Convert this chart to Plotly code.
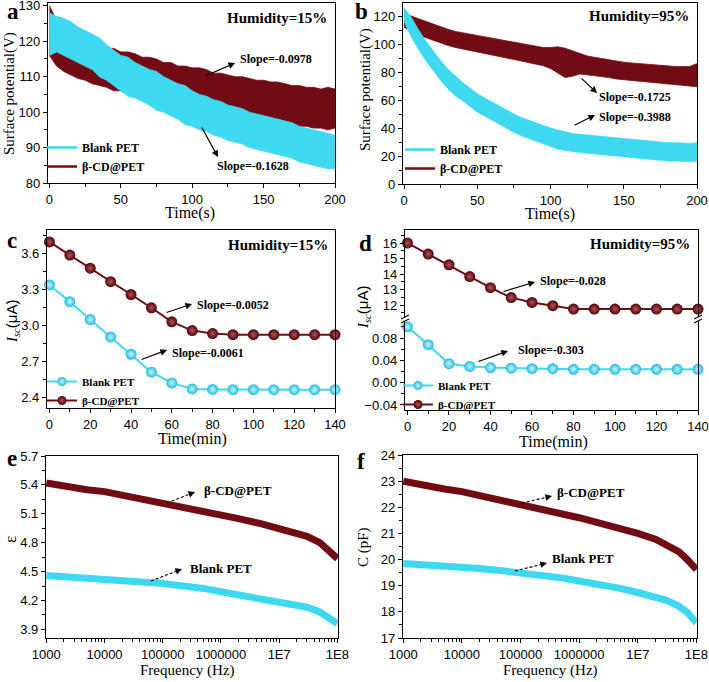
import math
import plotly.graph_objects as go

W, H = 709, 682
def px(x): return x / W
def py(y): return 1 - y / H

CYAN = "#3ED9F1"
RED = "#720C14"
CYAN_EDGE, CYAN_CTR = "#22BCDD", "#C8F6FF"
RED_EDGE, RED_CTR = "#4E0509", "#B4525A"
SERIF = "Liberation Serif, Times New Roman, serif"
SANS = "Liberation Sans, Arial, sans-serif"

# ---------------- data ----------------
# (a) Humidity 15 %, surface potential noise band (upper / lower envelope), every 5 s
t_a = list(range(0, 201, 5))
a_blank_hi = [128, 127, 126.5, 125.5, 124, 123, 122, 121, 119, 117.5, 116, 115.5, 114, 113, 112, 111.5, 110, 109, 108, 107.5,
              106, 105, 104.5, 103.5, 103, 102, 101.5, 101, 100, 99.5, 99, 98.5, 98, 97.5, 97, 96, 95.5, 95, 94.5, 94, 93.5]
a_blank_lo = [116, 117, 116, 115, 114, 113, 112, 110, 109, 107.5, 106, 104.5, 104, 103, 102, 100.5, 100, 99, 98, 96.5,
              96, 95, 94.5, 93.5, 93, 92, 91.5, 91, 90, 89.5, 89, 88.5, 88, 87.5, 87, 86, 85.5, 85, 84.5, 84, 84]
a_cd_hi = [130, 126, 124, 122.5, 121.5, 120, 120, 119, 118, 118, 117, 117, 116.5, 115.5, 115.5, 115, 114, 114, 113, 113,
           112.5, 112.5, 112, 111, 111, 110.5, 110, 110, 109.5, 109, 109, 108.5, 108.5, 108, 107.5, 107.5, 107, 107, 106.5, 107, 106.5]
a_cd_lo = [116, 113, 111.5, 110.5, 109.5, 109, 108, 107.5, 107, 106, 106, 105, 105, 104.5, 104, 103, 103, 102.5, 102, 101.5,
           101.5, 101, 100.5, 100, 99.5, 99, 99, 98.5, 98.5, 98, 97.5, 97.5, 97, 96.5, 96.5, 96, 96, 95.5, 95.5, 95, 95.5]

# (b) Humidity 95 %
t_b = list(range(0, 201, 5))
b_blank_hi = [126, 119, 110, 102, 95, 88, 82, 77, 72.5, 68.5, 64.5, 61.5, 58.5, 55.5, 52.5, 50, 47.5, 45.5, 43.5, 41.5,
              40, 38.5, 37, 36, 35.5, 35, 34.5, 34, 33.5, 32.5, 32, 31.5, 31, 30.5, 30, 30, 29.5, 29.5, 29, 29, 29.5]
b_blank_lo = [116, 105, 96, 88, 81, 74, 68, 63, 59.5, 55.5, 51.5, 48.5, 45.5, 42.5, 39.5, 37, 34.5, 32.5, 30.5, 28.5,
              26.5, 25, 24, 23, 22.5, 22, 21.5, 21, 20.5, 19.5, 19, 18.5, 18, 17.5, 17, 17, 16.5, 16.5, 16, 16, 16.5]
b_cd_hi = [121, 120, 118, 116, 114, 112, 110.5, 109, 108, 107, 106, 105, 104, 103, 102, 101, 100, 99, 98, 97.5,
           97.5, 98, 97, 95, 93, 91.5, 90.5, 89.5, 88.5, 87.5, 87, 86.5, 86, 85.5, 85, 84.5, 84, 84, 84, 84, 86]
b_cd_lo = [112, 109, 106.5, 104.5, 102.5, 100.5, 99, 97.5, 96.5, 95.5, 94, 93, 92, 91, 90, 89, 88, 87, 86, 84.5,
           82.5, 79, 76, 77, 78.5, 78, 77.5, 76.5, 76, 75, 74.5, 74, 73.5, 73, 72.5, 72, 71.5, 71, 70.5, 70, 69.5]

# (c) Isc at humidity 15 %
t_c = [0, 10, 20, 30, 40, 50, 60, 70, 80, 90, 100, 110, 120, 130, 140]
c_blank = [3.34, 3.20, 3.05, 2.905, 2.76, 2.61, 2.52, 2.47, 2.465, 2.463, 2.463, 2.463, 2.463, 2.463, 2.463]
c_cd = [3.70, 3.59, 3.48, 3.367, 3.26, 3.149, 3.031, 2.958, 2.933, 2.924, 2.924, 2.924, 2.924, 2.924, 2.924]

# (d) Isc at humidity 95 %
t_d = [0, 10, 20, 30, 40, 50, 60, 70, 80, 90, 100, 110, 120, 130, 140]
d_blank = [0.100, 0.068, 0.034, 0.029, 0.027, 0.026, 0.025, 0.025, 0.024, 0.024, 0.024, 0.024, 0.024, 0.024, 0.024]
d_cd = [16.0, 15.29, 14.6, 13.84, 13.12, 12.48, 12.17, 11.96, 11.74, 11.74, 11.74, 11.74, 11.74, 11.74, 11.74]

# (e)/(f) frequency sweeps
freq = [1e3, 2e3, 5e3, 1e4, 2e4, 5e4, 1e5, 2e5, 5e5, 1e6, 2e6, 5e6, 1e7, 2e7, 3e7, 5e7, 7e7, 1e8]
e_cd = [5.42, 5.385, 5.35, 5.33, 5.295, 5.25, 5.21, 5.175, 5.13, 5.085, 5.05, 4.995, 4.95, 4.90, 4.865, 4.80, 4.73, 4.635]
e_blank = [4.46, 4.45, 4.435, 4.425, 4.41, 4.39, 4.375, 4.355, 4.325, 4.29, 4.26, 4.22, 4.185, 4.15, 4.13, 4.08, 4.03, 3.96]
f_cd = [23.0, 22.85, 22.7, 22.6, 22.45, 22.3, 22.15, 21.98, 21.78, 21.6, 21.42, 21.2, 21.0, 20.78, 20.6, 20.3, 20.0, 19.62]
f_blank = [19.85, 19.82, 19.77, 19.73, 19.66, 19.57, 19.5, 19.42, 19.3, 19.18, 19.07, 18.9, 18.74, 18.57, 18.45, 18.22, 17.98, 17.58]

freq_ticks = [1e3, 1e4, 1e5, 1e6, 1e7, 1e8]
freq_ticktext = ["1000", "10000", "100000", "1000000", "1E7", "1E8"]
freq_minor = [m * 10 ** k for k in range(3, 8) for m in range(2, 10)]

names = ["Blank PET", "β-CD@PET"]

fig = go.Figure()

def band(x, lo, hi, color, xa, ya):
    fig.add_trace(go.Scatter(x=x, y=lo, mode="lines", line=dict(color=color, width=0.8),
                             xaxis=xa, yaxis=ya, showlegend=False, hoverinfo="skip"))
    fig.add_trace(go.Scatter(x=x, y=hi, mode="lines", line=dict(color=color, width=0.8),
                             fill="tonexty", fillcolor=color,
                             xaxis=xa, yaxis=ya, showlegend=False, hoverinfo="skip"))

# (a)
band(t_a, a_cd_lo, a_cd_hi, RED, "x", "y")
band(t_a, a_blank_lo, a_blank_hi, CYAN, "x", "y")
# (b)
band(t_b, b_cd_lo, b_cd_hi, RED, "x2", "y2")
band(t_b, b_blank_lo, b_blank_hi, CYAN, "x2", "y2")

# legend entries for (a), (b)
for lg, xa, ya in [("legend", "x", "y"), ("legend2", "x2", "y2")]:
    for nm, col in zip(names, [CYAN, RED]):
        fig.add_trace(go.Scatter(x=[None], y=[None], mode="lines", name=nm,
                                 line=dict(color=col, width=2.5), xaxis=xa, yaxis=ya, legend=lg))

def marker_line(x, y, col, edge, center, xa, ya):
    fig.add_trace(go.Scatter(
        x=x, y=y, mode="lines+markers", showlegend=False,
        line=dict(color=col, width=2),
        marker=dict(size=11, color=edge, line=dict(width=0),
                    gradient=dict(type="radial", color=center)),
        cliponaxis=False, xaxis=xa, yaxis=ya))

# (c)
marker_line(t_c, c_blank, CYAN, CYAN_EDGE, CYAN_CTR, "x3", "y3")
marker_line(t_c, c_cd, RED, RED_EDGE, RED_CTR, "x3", "y3")
# (d)
marker_line(t_d, d_blank, CYAN, CYAN_EDGE, CYAN_CTR, "x4", "y4")
marker_line(t_d, d_cd, RED, RED_EDGE, RED_CTR, "x5", "y5")

# legend entries for (c), (d)
for lg, xa, ya in [("legend3", "x3", "y3"), ("legend4", "x4", "y4")]:
    for nm, col, ed, ct in zip(names, [CYAN, RED], [CYAN_EDGE, RED_EDGE], [CYAN_CTR, RED_CTR]):
        fig.add_trace(go.Scatter(x=[None], y=[None], mode="lines+markers", name=nm, legend=lg,
                                 line=dict(color=col, width=2),
                                 marker=dict(size=9, color=ed, line=dict(width=0),
                                             gradient=dict(type="radial", color=ct)),
                                 xaxis=xa, yaxis=ya))

# (e), (f)
for y, col, xa, ya in [(e_cd, RED, "x6", "y6"), (e_blank, CYAN, "x6", "y6"),
                       (f_cd, RED, "x7", "y7"), (f_blank, CYAN, "x7", "y7")]:
    fig.add_trace(go.Scatter(x=freq, y=y, mode="lines", line=dict(color=col, width=7),
                             cliponaxis=False, xaxis=xa, yaxis=ya, showlegend=False))

# ---------------- axes ----------------
def axis(**kw):
    d = dict(showline=True, linecolor="black", linewidth=1.3, mirror=True,
             ticks="outside", ticklen=4, tickwidth=1.2, tickcolor="black",
             tickfont=dict(family=SANS, size=13, color="black"),
             showgrid=False, zeroline=False, automargin=False, ticklabeloverflow="allow")
    d.update(kw)
    return d

def minor(dt):
    return dict(ticks="outside", ticklen=2.5, tickwidth=1, tickcolor="black", dtick=dt)

log_minor = dict(ticks="outside", ticklen=2.5, tickwidth=1, tickcolor="black",
                 tickmode="array", tickvals=freq_minor)

lay = dict(
    width=W, height=H, margin=dict(l=0, r=0, t=0, b=0, autoexpand=False),
    paper_bgcolor="white", plot_bgcolor="white",
    xaxis=axis(domain=[px(48), px(335)], anchor="y", range=[-1, 200], dtick=50, minor=minor(25)),
    yaxis=axis(domain=[py(183), py(3)], anchor="x", range=[80, 130.8], dtick=10, minor=minor(5)),
    xaxis2=axis(domain=[px(403), px(697)], anchor="y2", range=[-0.7, 200], dtick=50, minor=minor(25)),
    yaxis2=axis(domain=[py(184), py(3)], anchor="x2", range=[0, 129.3], dtick=20, minor=minor(10)),
    xaxis3=axis(domain=[px(47), px(335)], anchor="y3", range=[-1.2, 140], dtick=20, minor=minor(10)),
    yaxis3=axis(domain=[py(408), py(230)], anchor="x3", range=[2.31, 3.80], tick0=2.4, dtick=0.3,
                tickformat=".1f", minor=minor(0.15)),
    xaxis4=axis(domain=[px(405), px(698)], anchor="y4", range=[-1.2, 140], dtick=20, minor=minor(10), mirror=False),
    yaxis4=axis(domain=[py(410), py(321)], anchor="x4", range=[-0.049, 0.1105], tick0=-0.04, dtick=0.04,
                tickformat=".2f", minor=minor(0.02)),
    xaxis5=axis(domain=[px(405), px(698)], anchor="y5", matches="x4", side="top", showticklabels=False,
                ticks="", mirror=False),
    yaxis5=axis(domain=[py(317), py(230)], anchor="x5", range=[11.23, 16.84], dtick=1, minor=minor(0.5)),
    xaxis6=axis(domain=[px(46), px(338)], anchor="y6", type="log", range=[2.995, 8.01],
                tickvals=freq_ticks, ticktext=freq_ticktext, minor=log_minor),
    yaxis6=axis(domain=[py(638), py(456)], anchor="x6", range=[3.81, 5.7], tick0=3.9, dtick=0.3,
                tickformat=".1f", minor=minor(0.15)),
    xaxis7=axis(domain=[px(403), px(697)], anchor="y7", type="log", range=[2.995, 8.01],
                tickvals=freq_ticks, ticktext=freq_ticktext, minor=log_minor),
    yaxis7=axis(domain=[py(638), py(455)], anchor="x7", range=[17, 24], dtick=1, minor=minor(0.5)),
)

def legend(x, y, size):
    return dict(x=px(x), y=py(y), xanchor="left", yanchor="top", bgcolor="rgba(0,0,0,0)",
                font=dict(family=SERIF, size=size, color="black", weight="bold"),
                tracegroupgap=0, itemwidth=30, traceorder="normal")

lay["legend"] = legend(42, 133, 12)
lay["legend2"] = legend(400, 135, 12)
lay["legend3"] = legend(42, 367, 11)
lay["legend4"] = legend(398, 371, 11)

fig.update_layout(**lay)

# ---------------- annotations ----------------
ann = []
def text(s, x, y, size=12, xanchor="left", bold=True, family=SERIF, angle=0):
    ann.append(dict(text=s, x=px(x), y=py(y), xref="paper", yref="paper", showarrow=False,
                    xanchor=xanchor, yanchor="middle", textangle=angle,
                    font=dict(family=family, size=size, color="black", weight="bold" if bold else "normal")))

def arrow(tail, head, dashed=False):
    hx, hy = head
    tx, ty = tail
    if not dashed:
        ann.append(dict(x=px(hx), y=py(hy), xref="paper", yref="paper", ax=tx - hx, ay=ty - hy,
                        showarrow=True, arrowhead=2, arrowsize=1.1, arrowwidth=1.2, arrowcolor="black", text=""))
    else:
        L = math.hypot(tx - hx, ty - hy)
        ux, uy = (tx - hx) / L, (ty - hy) / L
        fig.add_shape(type="line", xref="paper", yref="paper",
                      x0=px(tx), y0=py(ty), x1=px(hx + ux * 5), y1=py(hy + uy * 5),
                      line=dict(color="black", width=1.1, dash="3px,2px"))
        ann.append(dict(x=px(hx), y=py(hy), xref="paper", yref="paper", ax=ux * 6, ay=uy * 6,
                        showarrow=True, arrowhead=2, arrowsize=1.1, arrowwidth=1.2, arrowcolor="black", text=""))

# panel letters
for s, x, y in [("a", 5, 12), ("b", 353, 12), ("c", 5, 240), ("d", 357, 243), ("e", 5, 458), ("f", 355, 462)]:
    text(s, x, y, size=23)

# humidity labels
text("Humidity=15%", 329, 18, size=15, xanchor="right")
text("Humidity=95%", 691, 16, size=15, xanchor="right")
text("Humidity=15%", 330, 245, size=15, xanchor="right")
text("Humidity=95%", 692, 244, size=15, xanchor="right")

# slopes
arrow((205, 76), (235, 63)); text("Slope=-0.0978", 238, 59)
arrow((201, 126), (218, 157)); text("Slope=-0.1628", 215, 166)
arrow((580, 77), (597, 93)); text("Slope=-0.1725", 597, 97)
arrow((573, 126), (595, 115)); text("Slope=-0.3988", 597, 117)
arrow((165, 313), (192, 304)); text("Slope=-0.0052", 195, 305)
arrow((140, 360), (167, 350)); text("Slope=-0.0061", 170, 353)
arrow((502, 292), (535, 282)); text("Slope=-0.028", 538, 281)
arrow((477, 362), (508, 351)); text("Slope=-0.303", 516, 350)

# e / f labels
arrow((167, 503), (195, 492), dashed=True); text("β-CD@PET", 202, 490, size=13)
arrow((151, 581), (182, 569), dashed=True); text("Blank PET", 188, 568, size=13)
arrow((522, 503), (552, 496), dashed=True); text("β-CD@PET", 555, 492, size=13)
arrow((515, 571), (547, 563), dashed=True); text("Blank PET", 550, 558, size=13)

# axis titles
text("Surface potential(V)", 10, 94, size=15, xanchor="center", bold=False, angle=-90)
text("Surface potential(V)", 365, 90, size=15, xanchor="center", bold=False, angle=-90)
text("Time(s)", 190, 213, size=16, xanchor="center", bold=False)
text("Time(s)", 550, 214, size=16, xanchor="center", bold=False)
isc = "<i>I</i><sub><i>sc</i></sub><span style='font-family:Liberation Sans'>(μA)</span>"
text(isc, 12, 322, size=15, xanchor="center", bold=False, angle=-90)
text(isc, 363, 308, size=15, xanchor="center", bold=False, angle=-90)
text("Time(min)", 192, 439, size=16, xanchor="center", bold=False)
text("Time(min)", 553, 442, size=16, xanchor="center", bold=False)
text("ε", 10, 540, size=17, xanchor="center", bold=False, angle=-90)
text("C (pF)", 363, 547, size=15, xanchor="center", bold=False, angle=-90)
text("Frequency (Hz)", 188, 670, size=15, xanchor="center", bold=False)
text("Frequency (Hz)", 550, 670, size=15, xanchor="center", bold=False)

fig.update_layout(annotations=ann)

# axis-break marks on panel d
for bx in (405, 698):
    for off in (-2, 2):
        fig.add_shape(type="line", xref="paper", yref="paper",
                      x0=px(bx - 4), y0=py(319 + off + 2), x1=px(bx + 4), y1=py(319 + off - 2),
                      line=dict(color="black", width=1.2))

fig.write_html("out.html", config={"displayModeBar": False},
               post_script="document.body.style.margin='0';document.body.style.padding='0';")
